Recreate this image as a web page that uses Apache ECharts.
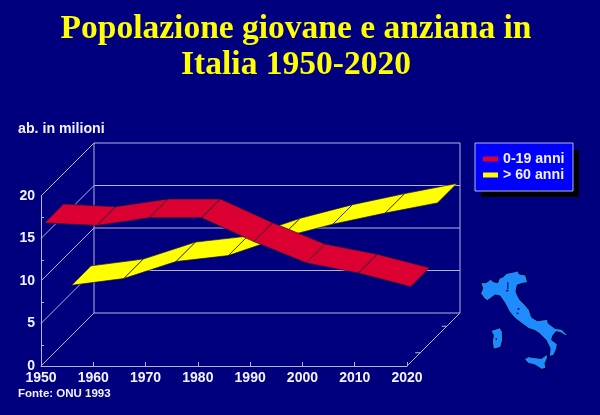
<!DOCTYPE html>
<html><head><meta charset="utf-8">
<script src="https://cdn.jsdelivr.net/npm/echarts@6/dist/echarts.min.js"></script>
<style>html,body{margin:0;padding:0;background:#00007f}#c{width:600px;height:415px}</style>
</head><body><div id="c"></div>
<script>
const years = [1950,1960,1970,1980,1990,2000,2010,2020];
const young = [16.4,16.1,17.0,17.0,14.2,11.7,10.5,8.9];
const old = [5.9,6.7,8.7,9.4,11.5,13.1,14.4,15.6];
const yTicks = [0,5,10,15,20];
const titleLines = 'Popolazione giovane e anziana in\nItalia 1950-2020';
const mainland = [[62,68],[78,68],[92,58],[100,65],[113,68],[118,55],[130,50],[140,40],[165,35],[172,32],[178,42],[197,45],[203,68],[188,70],[172,75],[168,95],[172,105],[180,120],[195,135],[208,150],[215,172],[232,182],[262,178],[265,190],[285,205],[305,208],[322,225],[318,228],[302,218],[288,215],[278,228],[275,240],[292,252],[290,265],[282,285],[268,290],[270,265],[258,240],[240,222],[225,212],[205,205],[185,190],[165,175],[148,155],[135,130],[120,108],[105,105],[92,115],[82,122],[72,115],[62,100],[68,85]];
const sardinia = [[92,212],[105,208],[120,203],[127,215],[128,240],[122,262],[100,268],[97,245],[100,225]];
const sicily = [[193,297],[205,290],[225,293],[245,295],[262,282],[262,295],[255,310],[258,325],[245,328],[225,315],[205,310]];

const BG='#00007f', LINE='#b4b4dc', TXT='#f2f2ff';
const DEPTH=53;
const shift=(p,d)=>[p[0]+d,p[1]-d];

function ribbon(values,d0,d1){
  return function(params,api){
    const i=params.dataIndex;
    if(i>=values.length-1) return null;
    const a=api.coord([years[i],values[i]]), b=api.coord([years[i+1],values[i+1]]);
    return {type:'polygon',shape:{points:[shift(a,d0),shift(b,d0),shift(b,d1),shift(a,d1)]},
      style:{fill:api.visual('color'),stroke:'#1a1a30',lineWidth:0.7}};
  };
}
function wall(params,api){
  if(params.dataIndex>0) return null;
  const ln=(p,q)=>({type:'line',shape:{x1:p[0],y1:p[1],x2:q[0],y2:q[1]},style:{stroke:LINE,lineWidth:1}});
  const x0=years[0],x1=years[years.length-1],ch=[];
  const top=yTicks[yTicks.length-1];
  yTicks.forEach(v=>{
    const l=api.coord([x0,v]),r=api.coord([x1,v]);
    ch.push(ln(shift(l,DEPTH),shift(r,DEPTH)));
    ch.push(ln(l,shift(l,DEPTH)));
  });
  const r0=api.coord([x1,0]);
  ch.push(ln(shift(api.coord([x0,0]),DEPTH),shift(api.coord([x0,top]),DEPTH)));
  ch.push(ln(shift(r0,DEPTH),shift(api.coord([x1,top]),DEPTH)));
  ch.push(ln(r0,shift(r0,DEPTH)));
  [DEPTH/4,DEPTH*3/4].forEach(d=>{const p=shift(r0,d);ch.push(ln(p,[p[0]-5,p[1]]));});
  return {type:'group',children:ch};
}
const toY=(v,i)=>[years[i],v];
const mapShape=pts=>({type:'polygon',shape:{points:pts},style:{fill:'#1e8cff',stroke:'#000030',lineWidth:3}});
const lake=(x,y,w,h)=>({type:'rect',shape:{x,y,width:w,height:h},style:{fill:'#000050'}});

const chart=echarts.init(document.getElementById('c'),null,{renderer:'canvas'});
chart.setOption({
  animation:false,
  backgroundColor:BG,
  title:[
    {text:titleLines,left:291,top:6,textAlign:'center',textStyle:{color:'#ffff00',fontFamily:'Liberation Serif',fontWeight:'bold',fontSize:33.5,lineHeight:36}},
    {text:'ab. in milioni',left:18,top:122,padding:0,textStyle:{color:TXT,fontFamily:'Liberation Sans',fontWeight:'bold',fontSize:14.2}},
    {text:'Fonte: ONU 1993',left:18,top:388,padding:0,textStyle:{color:TXT,fontFamily:'Liberation Sans',fontWeight:'bold',fontSize:11.5}}
  ],
  legend:{
    left:475,top:143,orient:'vertical',width:98,padding:[9,8.5,9,8],itemGap:2,
    itemWidth:15,itemHeight:5,icon:'rect',z:5,
    data:['0-19 anni','> 60 anni'],
    backgroundColor:'#0000ff',borderColor:LINE,borderWidth:1,
    textStyle:{color:TXT,fontFamily:'Liberation Sans',fontWeight:'bold',fontSize:14.2}
  },
  grid:{left:41,right:193,top:196,bottom:49},
  xAxis:{type:'value',min:1950,max:2020,interval:10,splitLine:{show:false},
    axisLine:{lineStyle:{color:LINE,width:1}},
    axisTick:{inside:true,length:4,lineStyle:{color:LINE}},
    axisLabel:{color:TXT,fontFamily:'Liberation Sans',fontWeight:'bold',fontSize:14,margin:5,formatter:v=>String(v)}},
  yAxis:{type:'value',min:0,max:20,interval:5,splitLine:{show:false},
    axisLine:{show:true,lineStyle:{color:LINE,width:1}},
    axisTick:{show:false,inside:true},
    minorTick:{show:true,splitNumber:2,length:3,lineStyle:{color:LINE}},
    axisLabel:{color:TXT,fontFamily:'Liberation Sans',fontWeight:'bold',fontSize:14,margin:6}},
  series:[
    {type:'custom',name:'wall',silent:true,z:1,coordinateSystem:'cartesian2d',data:[[1950,0]],renderItem:wall,encode:{x:0,y:1}},
    {type:'custom',name:'> 60 anni',z:2,coordinateSystem:'cartesian2d',itemStyle:{color:'#ffff00'},data:old.map(toY),renderItem:ribbon(old,30.5,50),encode:{x:0,y:1}},
    {type:'custom',name:'0-19 anni',z:3,coordinateSystem:'cartesian2d',itemStyle:{color:'#dc0032'},data:young.map(toY),renderItem:ribbon(young,3.7,22.5),encode:{x:0,y:1}}
  ],
  graphic:[
    {type:'rect',z:1,silent:true,shape:{x:481,y:150,width:98,height:47},style:{fill:'#000000'}},
    {type:'group',x:460,y:260,scaleX:1/3,scaleY:1/3,silent:true,children:[
    mapShape(mainland),mapShape(sardinia),mapShape(sicily),
    lake(142,66,3,22),lake(138,90,7,4),lake(173,144,5,5),lake(170,158,5,4),lake(107,235,4,4)
  ]}]
});
</script></body></html>
